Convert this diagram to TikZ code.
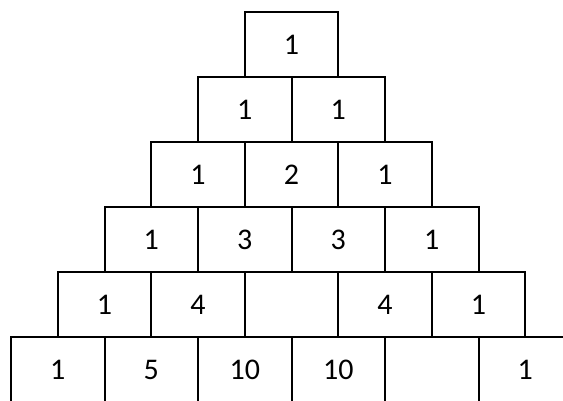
\documentclass[tikz,border=0pt]{standalone}
\usepackage{fontspec}
\setmainfont{Carlito}
\usetikzlibrary{positioning}
\tikzset{
  cellbox/.style={draw=black,line width=2pt,minimum width=93.5pt,
    minimum height=65pt,inner sep=0pt,outer sep=0pt,
    font=\fontsize{30}{30}\selectfont},
  blankbox/.style={cellbox,draw=black!40,line width=1.4pt},
}

\begin{document}
\begin{tikzpicture}[x=1pt,y=-1pt]
  \useasboundingbox (0,0) rectangle (563,401);
  \clip (0,0) rectangle (563,401);
  % the empty cell of the fifth row goes first
  \node[blankbox] (c53) at ({11+46.75+2.5*93.5},{12+4.5*65}) {};
  % rows of the triangle: row/position/entry
  \foreach \r/\k/\v in {1/1/1, 2/1/1, 2/2/1, 3/1/1, 3/2/2, 3/3/1,
      4/1/1, 4/2/3, 4/3/3, 4/4/1, 5/1/1, 5/2/4, 5/4/4, 5/5/1,
      6/1/1, 6/2/5, 6/3/10, 6/4/10, 6/6/1}
    \node[cellbox] (c\r\k) at ({11+(6-\r)*46.75+(\k-0.5)*93.5},{12+(\r-0.5)*65}) {\v};
  \node[cellbox] (c65) at ({11+4.5*93.5},{12+5.5*65}) {};
\end{tikzpicture}
\end{document}
